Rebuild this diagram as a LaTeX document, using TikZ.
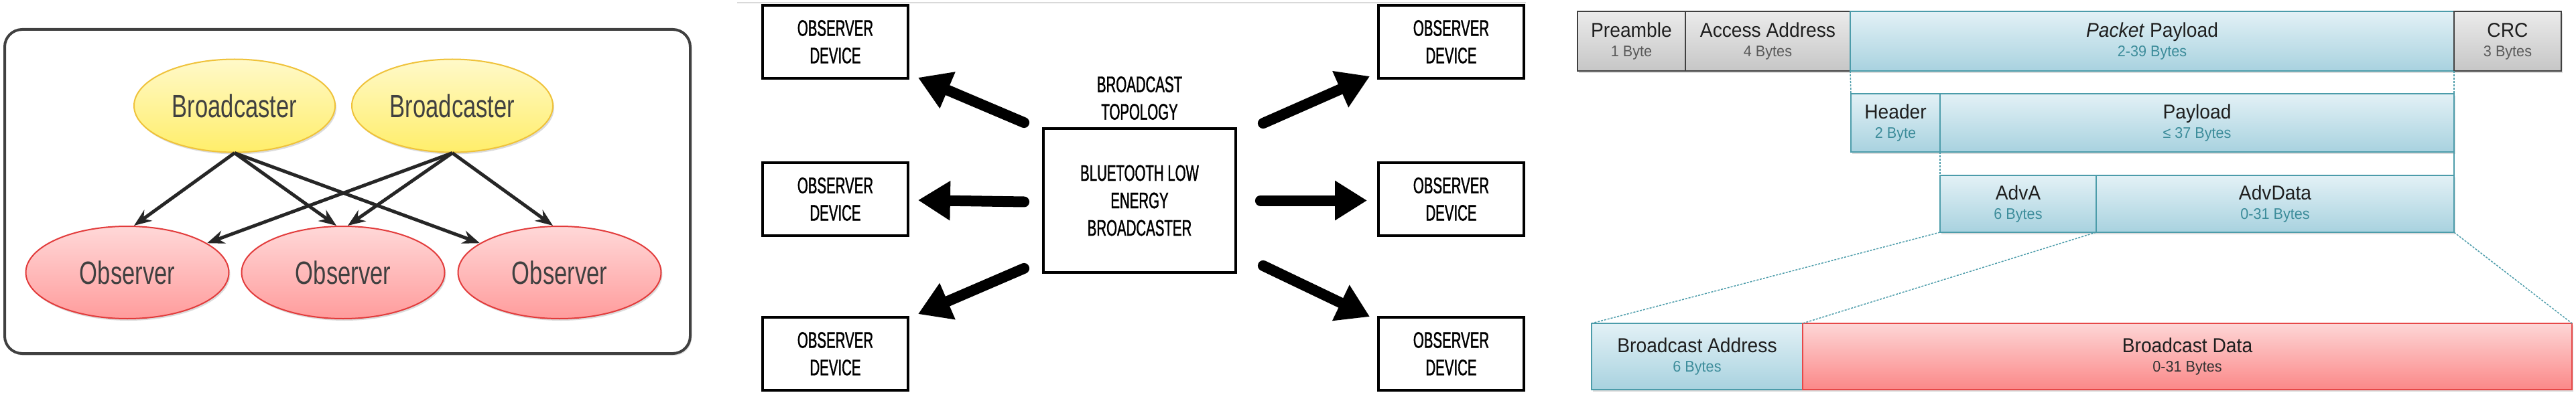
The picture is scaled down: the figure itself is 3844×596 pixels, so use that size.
\documentclass[tikz,border=0pt]{standalone}
\usepackage{fontspec}
\setmainfont{Liberation Sans}
\newfontfamily\narrowsans[FakeStretch=0.72]{Liberation Sans}
\newfontfamily\capsfont[FakeStretch=0.61,FakeBold=1.2]{Liberation Sans}
\newfontfamily\fieldfont[FakeStretch=0.94]{Liberation Sans}
\usetikzlibrary{positioning,calc,arrows.meta,shapes.geometric,shadows}

\definecolor{framegray}{HTML}{404040}
\definecolor{bcfill}{HTML}{FFF9C9}
\definecolor{bcfilldark}{HTML}{FFEE6A}
\definecolor{bcline}{HTML}{EFC23A}
\definecolor{obfill}{HTML}{FFD8D8}
\definecolor{obfilldark}{HTML}{FF9C9C}
\definecolor{obline}{HTML}{E23B3B}
\definecolor{tealtop}{HTML}{E3F1F6}
\definecolor{tealbot}{HTML}{A8D2DF}
\definecolor{tealline}{HTML}{4C9CAA}
\definecolor{tealtext}{HTML}{3C8C9A}
\definecolor{graytop}{HTML}{EBEBEB}
\definecolor{graybot}{HTML}{C6C6C6}
\definecolor{redtop}{HTML}{FDD6D6}
\definecolor{redbot}{HTML}{FB8888}
\definecolor{redline}{HTML}{E64848}

\newcommand{\sizeline}[2]{\\{\color{#1}\fontsize{23}{29}\selectfont #2}}

\begin{document}
\begin{tikzpicture}[
  x=1pt, y=-1pt,
  softshadow/.style={drop shadow={shadow xshift=2pt, shadow yshift=-3pt, opacity=0.28}},
  roundframe/.style={rectangle, draw=framegray, line width=4, rounded corners=26, fill=white,
    minimum width=1023, minimum height=484, softshadow},
  bcast/.style={ellipse, draw=bcline, line width=2, top color=bcfill, bottom color=bcfilldark,
    minimum width=300, minimum height=139, softshadow, text=black!75,
    font=\narrowsans\fontsize{48}{50}\selectfont},
  observer/.style={bcast, draw=obline, top color=obfill, bottom color=obfilldark, minimum width=303, minimum height=138},
  obsarrow/.style={-{Stealth[length=26pt,width=20pt]}, line width=5, draw=black!85},
  devbox/.style={rectangle, draw, line width=3.8, minimum width=217, minimum height=109, align=center,
    font=\capsfont\fontsize{33.5}{41}\selectfont},
  fatarrow/.style={line width=16, line cap=round, -{Triangle[length=48pt,width=56pt]}},
  field/.style={rectangle, line width=2.5, outer sep=0, inner sep=0, align=center, softshadow,
    text=black!88, font=\fieldfont\fontsize{30}{29}\selectfont},
  grayfield/.style={field, draw=black!75, top color=graytop, bottom color=graybot},
  tealfield/.style={field, draw=tealline, top color=tealtop, bottom color=tealbot},
  redfield/.style={field, draw=redline, top color=redtop, bottom color=redbot},
  split/.style={draw=tealline, line width=1.5, dash pattern=on 3pt off 2pt}
]
\useasboundingbox (0,0) rectangle (3844,596);

% broadcaster / observer roles
\node[roundframe] (frame) at (518.5,286) {};
\node[bcast] (b1) at (350,158) {Broadcaster};
\node[bcast] (b2) at (675,158) {Broadcaster};
\node[observer] (o1) at (190,407) {Observer};
\node[observer] (o2) at (512,407) {Observer};
\node[observer] (o3) at (835,407) {Observer};
\draw[obsarrow] (b1.south) -- ([xshift=10pt]o1.north);
\draw[obsarrow] (b1.south) -- ([xshift=-10pt]o2.north);
\draw[obsarrow] (b1.south) -- (o3);
\draw[obsarrow] (b2.south) -- (o1);
\draw[obsarrow] (b2.south) -- ([xshift=7pt]o2.north);
\draw[obsarrow] (b2.south) -- ([xshift=-10pt]o3.north);

% broadcast topology
\draw[black!15, line width=1.5] (1100,4) -- (2277,4);
\node[devbox, minimum width=287, minimum height=215] (c) at (1700.5,299.5)
  {BLUETOOTH LOW\\ENERGY\\BROADCASTER};
\node[above=11pt of c, inner sep=0, align=center, font=\capsfont\fontsize{33.5}{41}\selectfont] (topo)
  {BROADCAST\\TOPOLOGY};
\node[devbox] (tl) at (1246.5,62.5) {OBSERVER\\DEVICE};
\node[devbox] (ml) at (1246.5,297.5) {OBSERVER\\DEVICE};
\node[devbox] (bl) at (1246.5,528.5) {OBSERVER\\DEVICE};
\node[devbox] (tr) at (2165.5,62.5) {OBSERVER\\DEVICE};
\node[devbox] (mr) at (2165.5,297.5) {OBSERVER\\DEVICE};
\node[devbox] (br) at (2165.5,528.5) {OBSERVER\\DEVICE};
\draw[fatarrow] ($(c.north west)+(-27,-7)$) -- ($(tl.south east)+(13,-3)$);
\draw[fatarrow] ($(c.west)+(-27,2)$) -- ($(ml.east)+(13,1.5)$);
\draw[fatarrow] ($(c.south west)+(-27,-8)$) -- ($(bl.north east)+(13,-3)$);
\draw[fatarrow] ($(c.north east)+(39,-6)$) -- ($(tr.south west)+(-11,-5)$);
\draw[fatarrow] ($(c.east)+(35,0)$) -- ($(mr.west)+(-15,2)$);
\draw[fatarrow] ($(c.south east)+(39,-12)$) -- ($(br.north west)+(-11,1)$);

% packet layout
\node[grayfield, minimum width=161, minimum height=89, anchor=north west] (pre) at (2354,17)
  {Preamble\sizeline{black!65}{1 Byte}};
\node[grayfield, minimum width=246, minimum height=89, right=0pt of pre] (acc)
  {Access Address\sizeline{black!65}{4 Bytes}};
\node[tealfield, minimum width=901, minimum height=89, right=0pt of acc] (pkt)
  {\textit{Packet} Payload\sizeline{tealtext}{2-39 Bytes}};
\node[grayfield, minimum width=160, minimum height=89, right=0pt of pkt] (crc)
  {CRC\sizeline{black!65}{3 Bytes}};

\node[tealfield, minimum width=133, minimum height=87, anchor=north west] (hdr) at (2762,140)
  {Header\sizeline{tealtext}{2 Byte}};
\node[tealfield, minimum width=767, minimum height=87, right=0pt of hdr] (pay)
  {Payload\sizeline{tealtext}{≤ 37 Bytes}};

\node[tealfield, minimum width=233, minimum height=85, anchor=north west] (adva) at (2895,262)
  {AdvA\sizeline{tealtext}{6 Bytes}};
\node[tealfield, minimum width=534, minimum height=85, right=0pt of adva] (advd)
  {AdvData\sizeline{tealtext}{0-31 Bytes}};

\node[tealfield, minimum width=315, minimum height=99, anchor=north west] (badr) at (2375,483)
  {Broadcast Address\sizeline{tealtext}{6 Bytes}};
\node[redfield, minimum width=1148, minimum height=99, right=0pt of badr] (bdat)
  {Broadcast Data\sizeline{black!80}{0-31 Bytes}};

\draw[split] (acc.south east) -- (hdr.north west);
\draw[split] (pkt.south east) -- (pay.north east);
\draw[split] (hdr.south east) -- (adva.north west);
\draw[tealline, line width=1.5] (pay.south east) -- (advd.north east);
\draw[split] (adva.south west) -- (badr.north west);
\draw[split] (adva.south east) -- (badr.north east);
\draw[split] (advd.south east) -- (bdat.north east);
\end{tikzpicture}
\end{document}
